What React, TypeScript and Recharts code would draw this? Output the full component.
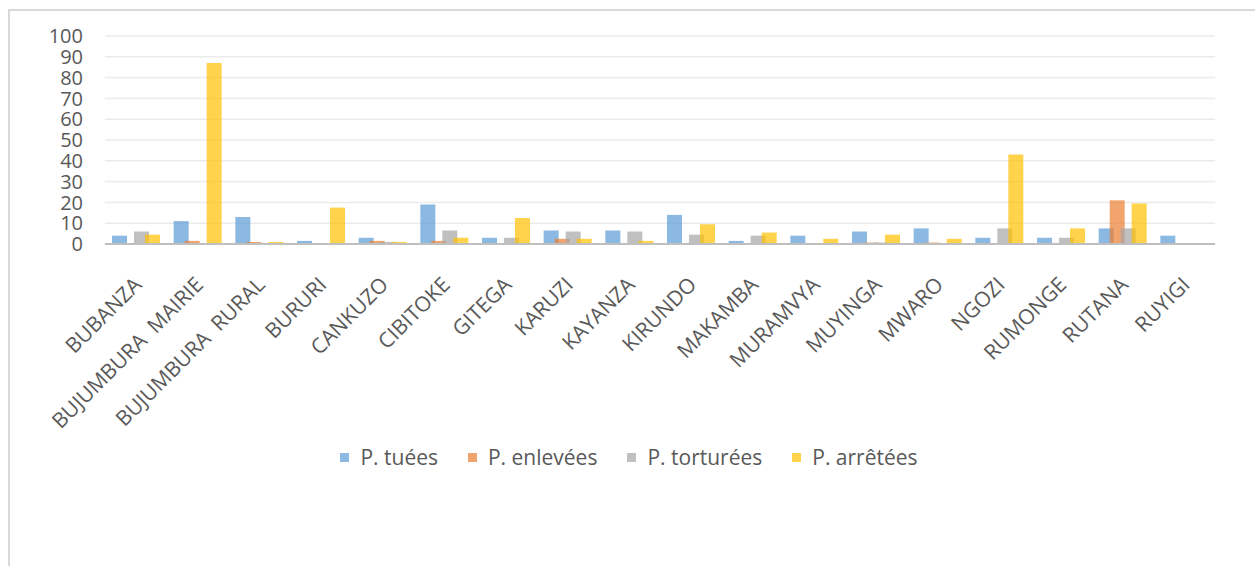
import React from 'react';
import { BarChart, Bar, XAxis, YAxis, CartesianGrid } from 'recharts';

// Provinces (double spaces kept as in the source sheet)
const provinces = [
    'BUBANZA', 'BUJUMBURA  MAIRIE', 'BUJUMBURA  RURAL', 'BURURI', 'CANKUZO', 'CIBITOKE',
    'GITEGA', 'KARUZI', 'KAYANZA', 'KIRUNDO', 'MAKAMBA', 'MURAMVYA',
    'MUYINGA', 'MWARO', 'NGOZI', 'RUMONGE', 'RUTANA', 'RUYIGI',
];

const tuees = [4, 11, 13, 1.5, 3, 19, 3, 6.5, 6.5, 14, 1.5, 4, 6, 7.5, 3, 3, 7.5, 4];
const enlevees = [0, 1.5, 1, 0, 1.5, 1.5, 0, 2.5, 0, 0, 0, 0, 0.7, 0.7, 0, 0, 21, 0];
const torturees = [6, 0, 0, 0, 1, 6.5, 3, 6, 6, 4.5, 4, 0, 0.7, 0, 7.5, 3, 7.5, 0];
const arretees = [4.5, 87, 1, 17.5, 1, 3, 12.5, 2.5, 1.5, 9.5, 5.5, 2.5, 4.5, 2.5, 43, 7.5, 19.5, 0];

const yTicks = [0, 10, 20, 30, 40, 50, 60, 70, 80, 90, 100];

const series = [
    { key: 'P. tuées', color: '#5B9BD5', values: tuees },
    { key: 'P. enlevées', color: '#ED7D31', values: enlevees },
    { key: 'P. torturées', color: '#A5A5A5', values: torturees },
    { key: 'P. arrêtées', color: '#FFC000', values: arretees },
];

const chartData = provinces.map((name, i) => {
    const row: Record<string, string | number> = { name };
    series.forEach(s => { row[s.key] = s.values[i]; });
    return row;
});

const FONT = '"Open Sans", sans-serif';
const TEXT = '#595959';

// rotated category labels, anchored at their end like Excel does
const ProvinceTick = (props: any) => {
    const { x, y, payload } = props;
    return (
        <text
            x={0}
            y={0}
            transform={`translate(${x + 7}, ${y + 42}) rotate(-45)`}
            textAnchor="end"
            fill={TEXT}
            fontSize={21}
            fontFamily={FONT}
            style={{ whiteSpace: 'pre' }}
        >
            {payload.value}
        </text>
    );
};

export default function App() {
    return (
        <div style={{ position: 'absolute', left: 0, top: 0, width: 1255, height: 566, background: '#fff', overflow: 'hidden' }}>
            {/* chart frame, only its top and left edges are in view */}
            <div style={{
                position: 'absolute', left: 8, top: 9, width: 1260, height: 570,
                borderLeft: '2px solid #D9D9D9', borderTop: '2px solid #D9D9D9',
            }} />
            <div style={{ position: 'absolute', left: 0, top: 0 }}>
                <BarChart
                    width={1255}
                    height={566}
                    data={chartData}
                    margin={{ top: 36, right: 40, bottom: 300, left: 45 }}
                    barGap={-4}
                    barSize={15}
                >
                    <CartesianGrid vertical={false} stroke="#EBEBEB" strokeWidth={1.5} />
                    <XAxis
                        dataKey="name"
                        height={22}
                        interval={0}
                        tickLine={false}
                        tickSize={0}
                        tickMargin={0}
                        axisLine={{ stroke: '#BFBFBF', strokeWidth: 2 }}
                        tick={<ProvinceTick />}
                    />
                    <YAxis
                        width={60}
                        domain={[0, 100]}
                        ticks={yTicks}
                        interval={0}
                        axisLine={false}
                        tickLine={false}
                        tickSize={0}
                        tickMargin={22}
                        tick={{ fill: TEXT, fontSize: 20, fontFamily: FONT }}
                    />
                    {series.map(s => (
                        <Bar
                            key={s.key}
                            dataKey={s.key}
                            fill={s.color}
                            fillOpacity={0.7}
                            isAnimationActive={false}
                        />
                    ))}
                </BarChart>
            </div>
            {/* legend */}
            <div style={{
                position: 'absolute', left: 0, top: 443, width: 1258, height: 28,
                display: 'flex', justifyContent: 'center', alignItems: 'center', gap: 30,
                fontFamily: FONT, fontSize: 21, lineHeight: '28px', color: TEXT,
            }}>
                {series.map(s => (
                    <div key={s.key} style={{ display: 'flex', alignItems: 'center' }}>
                        <span style={{ width: 9, height: 9, background: s.color, opacity: 0.7, marginRight: 11 }} />
                        <span>{s.key}</span>
                    </div>
                ))}
            </div>
        </div>
    );
}
